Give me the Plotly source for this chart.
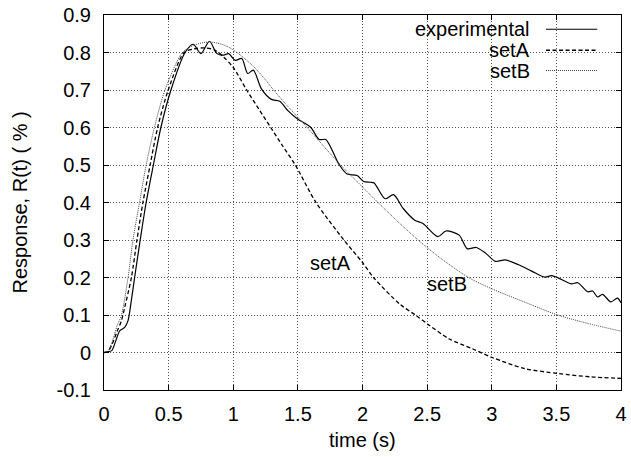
import plotly.graph_objects as go

# ---------------- data ----------------
series_names = ["experimental", "setA", "setB"]

t_exp = [0, 0.03, 0.06, 0.09, 0.122, 0.16, 0.186, 0.212, 0.237, 0.28, 0.326, 0.382, 0.44, 0.518,
         0.627, 0.69, 0.75, 0.816, 0.874, 0.925, 0.964, 1.015, 1.066, 1.112, 1.155, 1.218, 1.295,
         1.36, 1.423, 1.5, 1.55, 1.601, 1.665, 1.716, 1.767, 1.818, 1.881, 1.958, 2.009, 2.06,
         2.09, 2.175, 2.24, 2.315, 2.404, 2.468, 2.583, 2.646, 2.748, 2.81, 2.88, 2.952, 3.029,
         3.105, 3.207, 3.309, 3.41, 3.462, 3.513, 3.615, 3.666, 3.742, 3.78, 3.819, 3.857, 3.921,
         3.972, 4.0]
r_exp = [0, 0.002, 0.005, 0.03, 0.058, 0.067, 0.085, 0.14, 0.2, 0.3, 0.4, 0.5, 0.6, 0.7,
         0.8, 0.822, 0.797, 0.83, 0.797, 0.793, 0.797, 0.779, 0.784, 0.744, 0.753, 0.703, 0.675,
         0.67, 0.645, 0.622, 0.612, 0.6, 0.568, 0.568, 0.538, 0.502, 0.476, 0.472, 0.456, 0.454,
         0.452, 0.41, 0.421, 0.384, 0.353, 0.344, 0.309, 0.324, 0.313, 0.277, 0.28, 0.265, 0.243,
         0.247, 0.234, 0.217, 0.201, 0.205, 0.199, 0.183, 0.186, 0.162, 0.164, 0.148, 0.155, 0.135,
         0.145, 0.133]

t_a = [0, 0.03, 0.06, 0.1, 0.135, 0.16, 0.212, 0.255, 0.301, 0.357, 0.415, 0.497, 0.62, 0.7,
       0.78, 0.86, 0.925, 1.0, 1.104, 1.2, 1.29, 1.38, 1.48, 1.64, 1.856, 2.0, 2.085, 2.289,
       2.417, 2.519, 2.672, 2.85, 3.008, 3.258, 3.513, 3.768, 4.0]
r_a = [0, 0.003, 0.02, 0.055, 0.085, 0.12, 0.2, 0.3, 0.4, 0.5, 0.6, 0.7, 0.8, 0.81,
       0.812, 0.806, 0.788, 0.76, 0.7, 0.648, 0.6, 0.552, 0.5, 0.4, 0.3, 0.24, 0.2, 0.129,
       0.098, 0.072, 0.036, 0.01, -0.014, -0.043, -0.056, -0.065, -0.069]

t_b = [0, 0.03, 0.06, 0.1, 0.135, 0.186, 0.224, 0.275, 0.326, 0.39, 0.472, 0.607, 0.7, 0.81,
       0.9, 0.96, 1.04, 1.15, 1.25, 1.3, 1.4, 1.5, 1.58, 1.7, 1.83, 1.975, 2.12, 2.27, 2.43,
       2.61, 2.82, 3.0, 3.25, 3.51, 3.75, 4.0]
r_b = [0, 0.003, 0.025, 0.07, 0.1, 0.2, 0.3, 0.4, 0.5, 0.6, 0.7, 0.8, 0.82, 0.828,
       0.823, 0.815, 0.797, 0.765, 0.727, 0.705, 0.665, 0.627, 0.597, 0.55, 0.5, 0.45, 0.4, 0.35, 0.3,
       0.25, 0.2, 0.17, 0.135, 0.1, 0.077, 0.057]

x_ticks = [0, 0.5, 1, 1.5, 2, 2.5, 3, 3.5, 4]
x_tick_labels = ["0", "0.5", "1", "1.5", "2", "2.5", "3", "3.5", "4"]
y_ticks = [-0.1, 0, 0.1, 0.2, 0.3, 0.4, 0.5, 0.6, 0.7, 0.8, 0.9]
y_tick_labels = ["-0.1", "0", "0.1", "0.2", "0.3", "0.4", "0.5", "0.6", "0.7", "0.8", "0.9"]

x_title = "time (s)"
y_title = "Response, R(t) ( % )"
curve_labels = [("setA", 1.75, 0.238), ("setB", 2.652, 0.1815)]

# ---------------- styling ----------------
FONT = "Liberation Sans, Arial, Helvetica, sans-serif"
styles = [
    dict(color="black", width=1.2, dash="solid"),
    dict(color="black", width=1.3, dash="4px,2.5px"),
    dict(color="#444444", width=1, dash="1px,1px"),
]

fig = go.Figure()
for name, xs, ys, st in zip(series_names, [t_exp, t_a, t_b], [r_exp, r_a, r_b], styles):
    fig.add_trace(go.Scatter(x=xs, y=ys, mode="lines", name=name,
                             line=dict(color=st["color"], width=st["width"], dash=st["dash"],
                                       shape="spline", smoothing=0.8),
                             showlegend=False))

axis_common = dict(
    showline=True, linecolor="black", linewidth=1, mirror="ticks",
    ticks="inside", ticklen=5, tickcolor="black", tickwidth=1,
    showgrid=True, gridcolor="#555555", gridwidth=1, griddash="1px,2px",
    zeroline=False, tickfont=dict(family=FONT, size=20, color="black"),
)

fig.update_xaxes(range=[0, 4], tickvals=x_ticks, ticktext=x_tick_labels,
                 ticklabelstandoff=6, ticklabeloverflow="allow", **axis_common)
fig.update_yaxes(range=[-0.1, 0.9], tickvals=y_ticks, ticktext=y_tick_labels,
                 ticklabelstandoff=8, **axis_common)

# legend box (white background behind text, gnuplot style)
fig.add_shape(type="rect", xref="paper", yref="paper", x0=0.551, x1=0.97, y0=0.823, y1=0.985,
              fillcolor="white", line=dict(width=0), layer="between")

legend_rows = [0.962, 0.906, 0.852]
for name, yrow, st in zip(series_names, legend_rows, styles):
    fig.add_annotation(xref="paper", yref="paper", x=0.828, y=yrow, text=name,
                       showarrow=False, xanchor="right", yanchor="middle",
                       font=dict(family=FONT, size=20, color="black"))
    fig.add_shape(type="line", xref="paper", yref="paper", x0=0.855, x1=0.954, y0=yrow, y1=yrow,
                  line=dict(color=st["color"], width=st["width"], dash=st["dash"]))

for txt, lx, ly in curve_labels:
    fig.add_annotation(x=lx, y=ly, text=txt, showarrow=False, xanchor="center", yanchor="middle",
                       font=dict(family=FONT, size=20, color="black"))

fig.add_annotation(xref="paper", yref="paper", x=0.5, y=-0.1346, text=x_title, showarrow=False,
                   xanchor="center", yanchor="middle", font=dict(family=FONT, size=20, color="black"))
fig.add_annotation(xref="paper", yref="paper", x=-0.1625, y=0.5, text=y_title, showarrow=False,
                   textangle=-90, xanchor="center", yanchor="middle",
                   font=dict(family=FONT, size=20, color="black"))

fig.update_layout(width=631, height=457, margin=dict(l=104, r=4, t=11, b=67),
                  paper_bgcolor="white", plot_bgcolor="white", showlegend=False,
                  font=dict(family=FONT, size=20, color="black"))

fig.write_html("out.html", config={"displayModeBar": False},
               post_script="document.body.style.margin='0px';")
